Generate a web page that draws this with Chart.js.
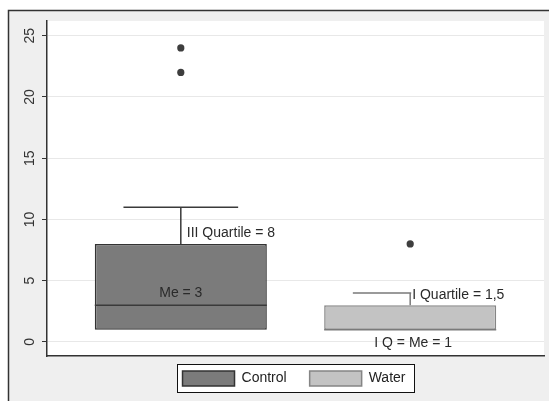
<!DOCTYPE html>
<html><head><meta charset="utf-8">
<script src="https://cdn.jsdelivr.net/npm/chart.js@4"></script>
<style>html,body{margin:0;padding:0;background:#fff}</style>
</head><body>
<canvas id="c" width="549" height="401"></canvas>
<script>
// ---- data ----
const categories = ['Control', 'Water'];
const q1Values = [1, 1];
const medianValues = [3, 1];
const q3Values = [8, 3];
const upperWhisker = [11, 4];
const lowerWhisker = [1, 1];
const outlierValues = [[24, 22], [8]];
const yTickValues = [0, 5, 10, 15, 20, 25];
const annotationTexts = ['III Quartile = 8', 'Me = 3', 'I Quartile = 1,5', 'I Q = Me = 1'];

// ---- styles ----
const boxFill = ['#7b7b7b', '#c3c3c3'];
const boxEdge = ['#333333', '#858585'];
const lineCol = ['#3a3a3a', '#7a7a7a'];
const BOX_W = 0.75, CAP_W = 0.5;
const FONT = '"Liberation Sans", Arial, sans-serif';

const positions = categories.map((_, i) => i + 1);

const datasets = [];
categories.forEach((name, i) => {
  datasets.push({
    type: 'bar', label: name,
    data: [{x: positions[i], y: [q1Values[i], q3Values[i]]}],
    backgroundColor: boxFill[i], borderColor: boxEdge[i], borderWidth: 1.5,
    borderSkipped: false, grouped: false, barPercentage: BOX_W, categoryPercentage: 1, order: 5
  });
});
categories.forEach((name, i) => {
  const p = positions[i];
  const pts = [
    {x: p, y: q3Values[i]}, {x: p, y: upperWhisker[i]}, {x: p, y: null},
    {x: p - CAP_W / 2, y: upperWhisker[i]}, {x: p + CAP_W / 2, y: upperWhisker[i]}, {x: p, y: null},
    {x: p - BOX_W / 2, y: medianValues[i]}, {x: p + BOX_W / 2, y: medianValues[i]}
  ];
  if (lowerWhisker[i] < q1Values[i]) {
    pts.push({x: p, y: null}, {x: p, y: q1Values[i]}, {x: p, y: lowerWhisker[i]}, {x: p, y: null},
      {x: p - CAP_W / 2, y: lowerWhisker[i]}, {x: p + CAP_W / 2, y: lowerWhisker[i]});
  }
  datasets.push({
    type: 'line', label: name + ' whiskers', data: pts, borderColor: lineCol[i],
    borderWidth: 1.5, pointRadius: 0, spanGaps: false, fill: false, showLine: true, order: 1
  });
});
datasets.push({
  type: 'scatter', label: 'outliers',
  data: outlierValues.flatMap((arr, i) => arr.map(v => ({x: positions[i], y: v}))),
  backgroundColor: '#3e3e3e', borderWidth: 0, pointRadius: 3.6, order: 0
});

const framePlugin = {
  id: 'frame',
  afterLayout(chart) {
    const lg = chart.legend, a = chart.chartArea;
    if (!lg) return;
    lg.left = a.left - 3; lg.right = a.right;
    const h = lg.height;
    lg.top = a.bottom - 8; lg.bottom = lg.top + h;
  },
  beforeDraw(chart) {
    const {ctx, chartArea: a, width, height} = chart;
    ctx.save();
    ctx.fillStyle = '#ffffff'; ctx.fillRect(0, 0, width, height);
    ctx.fillStyle = '#efefef'; ctx.fillRect(8, 10, width, height);
    ctx.strokeStyle = '#333'; ctx.lineWidth = 1.5;
    ctx.beginPath(); ctx.moveTo(8.5, height); ctx.lineTo(8.5, 10.5); ctx.lineTo(width, 10.5); ctx.stroke();
    ctx.fillStyle = '#ffffff'; ctx.fillRect(a.left, a.top, a.right - a.left, a.bottom - a.top);
    const hb = chart.legend && chart.legend.legendHitBoxes;
    if (hb && hb.length) {
      const first = hb[0], last = hb[hb.length - 1];
      const l = Math.round(first.left - 6) + 0.5, t = Math.round(first.top - 7) + 0.5;
      const r = Math.round(last.left + last.width + 9) + 0.5;
      ctx.fillStyle = '#fff'; ctx.fillRect(l, t, r - l, 28);
      ctx.strokeStyle = '#111'; ctx.lineWidth = 1; ctx.strokeRect(l, t, r - l, 28);
    }
    ctx.restore();
  }
};

const annPlugin = {
  id: 'ann',
  afterDatasetsDraw(chart) {
    const {ctx, scales: {x, y}} = chart;
    const items = [
      {t: annotationTexts[0], px: x.getPixelForValue(positions[0]) + 6, py: y.getPixelForValue(q3Values[0]) - 11, align: 'left'},
      {t: annotationTexts[1], px: x.getPixelForValue(positions[0]), py: y.getPixelForValue(medianValues[0]) - 12, align: 'center'},
      {t: annotationTexts[2], px: x.getPixelForValue(positions[1]) + 2, py: y.getPixelForValue(q3Values[1]) - 10, align: 'left', bg: true},
      {t: annotationTexts[3], px: x.getPixelForValue(positions[1]) + 3, py: y.getPixelForValue(q1Values[1]) + 13, align: 'center'}
    ];
    ctx.save();
    ctx.font = '14px ' + FONT;
    ctx.textBaseline = 'middle';
    items.forEach(it => {
      ctx.textAlign = it.align;
      if (it.bg) {
        const w = ctx.measureText(it.t).width;
        ctx.fillStyle = '#fff';
        ctx.fillRect(it.px - 1, it.py - 7, w + 2, 14);
      }
      ctx.fillStyle = '#2a2a2a';
      ctx.fillText(it.t, it.px, it.py);
    });
    ctx.restore();
  }
};

new Chart(document.getElementById('c'), {
  type: 'scatter',
  data: {datasets},
  options: {
    responsive: false, animation: false, devicePixelRatio: 1,
    layout: {padding: {top: 21, left: 8, right: 5, bottom: -3}},
    scales: {
      x: {
        type: 'linear', min: 5 / 12, max: 31 / 12, offset: false,
        afterBuildTicks: s => { s.ticks = positions.map(v => ({value: v})); },
        ticks: {display: false},
        grid: {display: false, drawTicks: false, offset: false},
        border: {display: true, color: '#333', width: 1.5},
        afterFit: s => { s.height = 0; }
      },
      y: {
        type: 'linear', min: -1.15, max: 26.2,
        afterBuildTicks: s => { s.ticks = yTickValues.map(v => ({value: v})); },
        ticks: {minRotation: 90, maxRotation: 90, crossAlign: 'center', padding: 4,
          color: '#333', font: {family: FONT, size: 14}},
        grid: {color: '#e8e8e8', lineWidth: 1, tickColor: '#333', tickLength: 5, tickWidth: 1},
        border: {display: true, color: '#333', width: 1.5},
        afterFit: s => { s.width = 39; }
      }
    },
    plugins: {
      legend: {
        position: 'bottom',
        labels: {
          filter: item => categories.includes(item.text),
          boxWidth: 52, boxHeight: 15, padding: 23, color: '#222',
          font: {family: FONT, size: 14}
        }
      },
      tooltip: {enabled: false}
    }
  },
  plugins: [framePlugin, annPlugin]
});
</script>
</body></html>
